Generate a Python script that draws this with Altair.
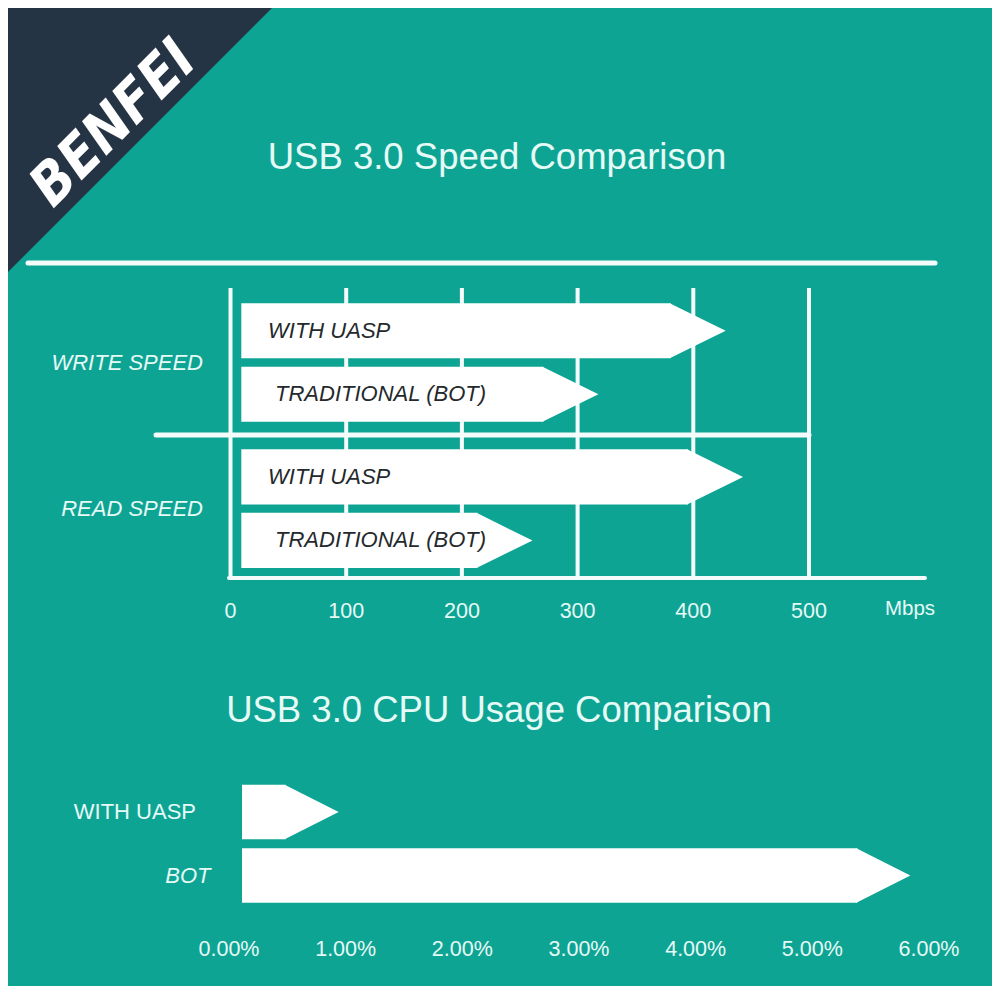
import altair as alt
import pandas as pd

# ---------------- data ----------------
speed_groups = ["WRITE SPEED", "READ SPEED"]
speed_series = ["WITH UASP", "TRADITIONAL (BOT)"]
write_speed = [428, 318]          # Mbps
read_speed = [443, 261]           # Mbps
speed_ticks = [0, 100, 200, 300, 400, 500]
speed_tick_labels = ["0", "100", "200", "300", "400", "500"]
speed_unit = ["Mbps"]

cpu_series = ["WITH UASP", "BOT"]
cpu_usage = [0.94, 5.84]          # percent
cpu_ticks = [0, 1, 2, 3, 4, 5, 6]
cpu_tick_labels = ["0.00%", "1.00%", "2.00%", "3.00%", "4.00%", "5.00%", "6.00%"]

titles = ["USB 3.0 Speed Comparison", "USB 3.0 CPU Usage Comparison"]
brand = ["BENFEI"]

# ---------------- style ----------------
W, H = 984, 978
TEAL = "#0ea494"
NAVY = "#253444"
LIGHT = "#e6faf6"
LINE = "#f4fcfb"
DARK = "#24292c"
FONT = "Liberation Sans"

# speed chart geometry (scale ranges)
SX_RANGE = [222.5, 801]
SY_RANGE = [281.4, 573.8]
SYO_PI, SYO_PO = 0.131, 0.2165
sp_step = (SY_RANGE[1] - SY_RANGE[0]) / 2 / (2 - SYO_PI + 2 * SYO_PO)
SP_BH = sp_step * (1 - SYO_PI)
SP_HEAD = 55

# cpu chart geometry
CX_RANGE = [221, 921]
CY_RANGE = [772.25, 899.25]
CY_PI, CY_PO = 0.142, 0.071
cp_step = (CY_RANGE[1] - CY_RANGE[0]) / (2 - CY_PI + 2 * CY_PO)
CP_BH = cp_step * (1 - CY_PI)
CP_HEAD = 53


def tri_path(head, bh):
    a = (head + 1) / (bh / 2)
    return f"M0,0L{-a:.3f},-1L{-a:.3f},1Z"


# ---------------- tables ----------------
speed_df = pd.DataFrame({
    "group": [g for g in speed_groups for _ in speed_series],
    "series": speed_series * len(speed_groups),
    "mbps": write_speed + read_speed,
})
speed_df["start"] = 0
speed_tick_df = pd.DataFrame({"v": speed_ticks, "label": speed_tick_labels})
group_df = pd.DataFrame({"group": speed_groups})

cpu_df = pd.DataFrame({"series": cpu_series, "usage": cpu_usage})
cpu_df["start"] = 0
cpu_tick_df = pd.DataFrame({"v": cpu_ticks, "label": cpu_tick_labels})

one = pd.DataFrame({"k": [0]})

# ---------------- scales ----------------
sx = alt.Scale(domain=[0, 500], range=SX_RANGE, nice=False, zero=False)
sy = alt.Scale(domain=speed_groups, range=SY_RANGE, paddingInner=0, paddingOuter=0)
syo = alt.Scale(domain=speed_series, paddingInner=SYO_PI, paddingOuter=SYO_PO)

cx = alt.Scale(domain=[0, 6], range=CX_RANGE, nice=False, zero=False)
cy = alt.Scale(domain=cpu_series, range=CY_RANGE, paddingInner=CY_PI, paddingOuter=CY_PO)

# ---------------- decorations ----------------
corner = alt.Chart(one).mark_point(
    shape="M0,0L1,0L0,1Z", size=(2 * 264) ** 2, filled=True, opacity=1,
    color=NAVY, strokeWidth=0
).encode(x=alt.value(0), y=alt.value(0))

brand_txt = alt.Chart(pd.DataFrame({"t": brand})).mark_text(
    font="Liberation Sans Narrow, DejaVu Sans Condensed, Liberation Sans",
    fontSize=57, fontWeight="bold", fontStyle="italic", color="#ffffff",
    angle=315, align="center", baseline="alphabetic"
).encode(x=alt.value(118), y=alt.value(128), text="t:N")

title1 = alt.Chart(pd.DataFrame({"t": [titles[0]]})).mark_text(
    font=FONT, fontSize=36.5, color=LIGHT, align="center", baseline="alphabetic"
).encode(x=alt.value(489), y=alt.value(161.3), text="t:N")

title2 = alt.Chart(pd.DataFrame({"t": [titles[1]]})).mark_text(
    font=FONT, fontSize=36.5, color=LIGHT, align="center", baseline="alphabetic"
).encode(x=alt.value(491), y=alt.value(714), text="t:N")

top_sep = alt.Chart(one).mark_rule(color=LINE, strokeWidth=5, strokeCap="round").encode(
    x=alt.value(20), x2=alt.value(927), y=alt.value(255))

# ---------------- speed chart ----------------
grid = alt.Chart(speed_tick_df).mark_rule(color=LINE, strokeWidth=4).encode(
    x=alt.X("v:Q", scale=sx, axis=None), y=alt.value(280), y2=alt.value(570))

mid_sep = alt.Chart(one).mark_rule(color=LINE, strokeWidth=5, strokeCap="round").encode(
    x=alt.value(148), x2=alt.value(801), y=alt.value(427))

base_line = alt.Chart(one).mark_rule(color=LINE, strokeWidth=4, strokeCap="round").encode(
    x=alt.value(221), x2=alt.value(917), y=alt.value(570))

sp_bars = alt.Chart(speed_df).mark_bar(
    color="#ffffff", xOffset=10.8, x2Offset=-SP_HEAD
).encode(
    x=alt.X("start:Q", scale=sx, axis=None),
    x2="mbps:Q",
    y=alt.Y("group:N", scale=sy, axis=None),
    yOffset=alt.YOffset("series:N", scale=syo),
)

sp_tips = alt.Chart(speed_df).mark_point(
    shape=tri_path(SP_HEAD, SP_BH), size=SP_BH ** 2, filled=True, opacity=1,
    color="#ffffff", strokeWidth=0
).encode(
    x=alt.X("mbps:Q", scale=sx, axis=None),
    y=alt.Y("group:N", scale=sy, axis=None),
    yOffset=alt.YOffset("series:N", scale=syo),
)

sp_texts = []
for ser, dx in zip(speed_series, [37.5, 44.5]):
    sp_texts.append(
        alt.Chart(speed_df).transform_filter(alt.datum.series == ser).mark_text(
            align="left", baseline="middle", dx=dx, font=FONT, fontSize=22,
            fontStyle="italic", color=DARK
        ).encode(
            x=alt.X("start:Q", scale=sx, axis=None),
            y=alt.Y("group:N", scale=sy, axis=None),
            yOffset=alt.YOffset("series:N", scale=syo),
            text="series:N",
        )
    )

grp_labels = alt.Chart(group_df).mark_text(
    align="right", baseline="middle", font=FONT, fontSize=22,
    fontStyle="italic", color=LIGHT
).encode(x=alt.value(195), y=alt.Y("group:N", scale=sy, axis=None), text="group:N")

sp_tick_labels = alt.Chart(speed_tick_df).mark_text(
    font=FONT, fontSize=21.5, color=LIGHT, baseline="middle", align="center"
).encode(x=alt.X("v:Q", scale=sx, axis=None), y=alt.value(604), text="label:N")

unit_lbl = alt.Chart(pd.DataFrame({"u": speed_unit})).mark_text(
    font=FONT, fontSize=20.5, color=LIGHT, baseline="middle", align="center"
).encode(x=alt.value(902), y=alt.value(601), text="u:N")

speed = alt.layer(grid, mid_sep, base_line, sp_bars, sp_tips, *sp_texts,
                  grp_labels, sp_tick_labels, unit_lbl)

# ---------------- cpu chart ----------------
cp_bars = alt.Chart(cpu_df).mark_bar(
    color="#ffffff", xOffset=13, x2Offset=-CP_HEAD
).encode(
    x=alt.X("start:Q", scale=cx, axis=None),
    x2="usage:Q",
    y=alt.Y("series:N", scale=cy, axis=None),
)

cp_tips = alt.Chart(cpu_df).mark_point(
    shape=tri_path(CP_HEAD, CP_BH), size=CP_BH ** 2, filled=True, opacity=1,
    color="#ffffff", strokeWidth=0
).encode(
    x=alt.X("usage:Q", scale=cx, axis=None),
    y=alt.Y("series:N", scale=cy, axis=None),
)

cp_lbl_uasp = alt.Chart(cpu_df).transform_filter(alt.datum.series == cpu_series[0]).mark_text(
    align="right", baseline="middle", font=FONT, fontSize=22, color=LIGHT
).encode(x=alt.value(188), y=alt.Y("series:N", scale=cy, axis=None), text="series:N")

cp_lbl_bot = alt.Chart(cpu_df).transform_filter(alt.datum.series == cpu_series[1]).mark_text(
    align="right", baseline="middle", font=FONT, fontSize=22, fontStyle="italic", color=LIGHT
).encode(x=alt.value(202.5), y=alt.Y("series:N", scale=cy, axis=None), text="series:N")

cp_tick_labels = alt.Chart(cpu_tick_df).mark_text(
    font=FONT, fontSize=21.5, color=LIGHT, baseline="middle", align="center"
).encode(x=alt.X("v:Q", scale=cx, axis=None), y=alt.value(942), text="label:N")

cpu = alt.layer(cp_bars, cp_tips, cp_lbl_uasp, cp_lbl_bot, cp_tick_labels)

chart = alt.layer(
    corner, brand_txt, title1, title2, top_sep, speed, cpu
).resolve_scale(
    x="independent", y="independent"
).properties(
    width=W, height=H, padding=0, background=TEAL,
    autosize=alt.AutoSizeParams(type="none"),
).configure_view(stroke=None)

chart.save("out.html", embed_options={"renderer": "svg", "actions": False})
